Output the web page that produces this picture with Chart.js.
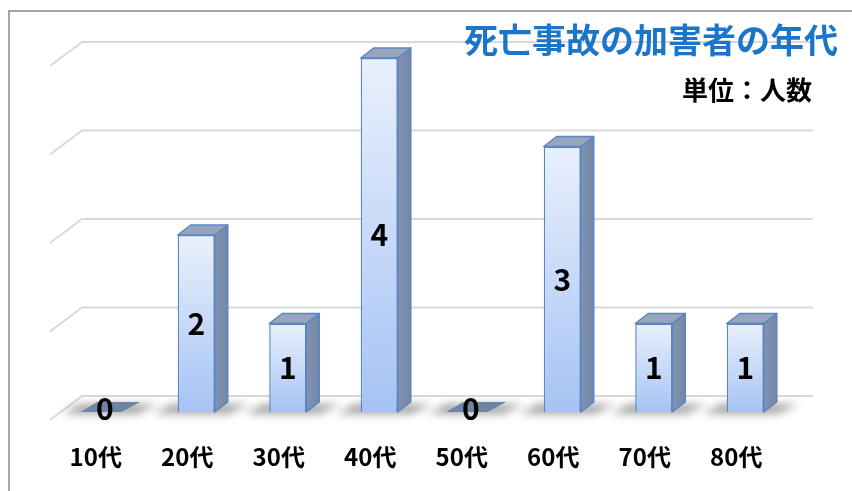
<!DOCTYPE html>
<html lang="ja">
  <head>
    <meta charset="utf-8">
    <title>死亡事故の加害者の年代</title>
    <script src="https://cdn.jsdelivr.net/npm/chart.js"></script>
    <style>
      html, body { margin: 0; padding: 0; background: #fff; }
      #wrap { width: 852px; height: 491px; }
    </style>
  </head>
  <body>
    <div id="wrap"><canvas id="barChart"></canvas></div>

    <script>
      // data
      var ages = ['10代', '20代', '30代', '40代', '50代', '60代', '70代', '80代'];
      var counts = [0, 2, 1, 4, 0, 3, 1, 1];
      var yTicks = [0, 1, 2, 3, 4];
      var titleText = '死亡事故の加害者の年代';
      var unitText = '単位：人数';

      var FONT = '"Noto Sans CJK JP", "Noto Sans", sans-serif';
      var DX = 13, DY = 10;   // depth of the bars

      // gradient for the front face of each bar
      function frontFill(c) {
        var chart = c.chart;
        var ys = chart.scales.y;
        if (!ys || c.raw === undefined) return '#c5d8f8';
        var top = ys.getPixelForValue(c.raw);
        var base = ys.getPixelForValue(0);
        if (!isFinite(top) || !isFinite(base) || base - top < 1) return '#c5d8f8';
        var g = chart.ctx.createLinearGradient(0, top, 0, base);
        g.addColorStop(0, '#e9f0fc');
        g.addColorStop(1, '#a6c3f4');
        return g;
      }

      // frame, back gridlines, shadows, 3d faces, labels
      var backdrop = {
        id: 'backdrop',
        beforeDraw: function(chart) {
          var ctx = chart.ctx;
          ctx.save();
          ctx.strokeStyle = '#a6a6a6';
          ctx.lineWidth = 2;
          ctx.strokeRect(9, 11, 900, 600);
          ctx.restore();
        },
        beforeDatasetsDraw: function(chart) {
          var ctx = chart.ctx;
          var ys = chart.scales.y;
          var area = chart.chartArea;
          ctx.save();
          ctx.strokeStyle = '#d9d9d9';
          ctx.lineWidth = 2;
          yTicks.forEach(function(v) {
            var py = ys.getPixelForValue(v) - 16;
            ctx.beginPath();
            ctx.moveTo(area.left - 9, py + 24);
            ctx.lineTo(area.left + 23, py);
            ctx.lineTo(area.right + 22, py);
            ctx.stroke();
          });
          // soft shadows under the bars
          var meta = chart.getDatasetMeta(0);
          ctx.filter = 'blur(4px)';
          meta.data.forEach(function(bar) {
            var w = bar.width;
            var l = bar.x - w / 2, r = bar.x + w / 2, b = bar.base;
            ctx.fillStyle = 'rgba(90,90,90,0.55)';
            ctx.beginPath();
            ctx.moveTo(l - 24, b + 2);
            ctx.lineTo(l - 6, b - 8);
            ctx.lineTo(r + 34, b - 8);
            ctx.lineTo(r + 14, b + 2);
            ctx.closePath();
            ctx.fill();
          });
          ctx.restore();
        },
        afterDatasetsDraw: function(chart) {
          var ctx = chart.ctx;
          var meta = chart.getDatasetMeta(0);
          ctx.save();
          meta.data.forEach(function(bar, i) {
            var w = bar.width;
            var l = bar.x - w / 2, r = bar.x + w / 2;
            var t = bar.y, b = bar.base;
            ctx.lineWidth = 1.5;
            ctx.strokeStyle = '#5b86c4';
            ctx.lineJoin = 'round';
            if (b - t > 1) {
              // side face
              var sg = ctx.createLinearGradient(r, 0, r + DX, 0);
              sg.addColorStop(0, '#8293b0');
              sg.addColorStop(1, '#7387a8');
              ctx.fillStyle = sg;
              ctx.beginPath();
              ctx.moveTo(r, t);
              ctx.lineTo(r + DX, t - DY);
              ctx.lineTo(r + DX, b - DY);
              ctx.lineTo(r, b);
              ctx.closePath();
              ctx.fill();
              ctx.stroke();
              // top face
              ctx.fillStyle = '#97a5bd';
              ctx.beginPath();
              ctx.moveTo(l, t);
              ctx.lineTo(l + DX, t - DY);
              ctx.lineTo(r + DX, t - DY);
              ctx.lineTo(r, t);
              ctx.closePath();
              ctx.fill();
              ctx.stroke();
            } else {
              // flat bar for zero
              ctx.fillStyle = '#6e84a6';
              ctx.beginPath();
              ctx.moveTo(l - 6, b);
              ctx.lineTo(l + DX - 2, b - DY);
              ctx.lineTo(r + DX + 4, b - DY);
              ctx.lineTo(r - 2, b);
              ctx.closePath();
              ctx.fill();
            }
            // value label
            ctx.fillStyle = '#000';
            ctx.font = 'bold 30px ' + FONT;
            ctx.textAlign = 'center';
            ctx.textBaseline = 'middle';
            var cy = (b - t > 1) ? (t + b) / 2 : b - 3;
            ctx.fillText(String(counts[i]), bar.x, cy);
          });
          ctx.restore();
        },
        afterDraw: function(chart) {
          var ctx = chart.ctx;
          ctx.save();
          ctx.textAlign = 'right';
          ctx.textBaseline = 'middle';
          ctx.fillStyle = '#1b75c9';
          ctx.font = 'bold 34px ' + FONT;
          ctx.fillText(titleText, 838, 40);
          ctx.fillStyle = '#000';
          ctx.font = 'bold 26px ' + FONT;
          ctx.fillText(unitText, 812, 90);
          ctx.restore();
        }
      };

      var barChart = new Chart(document.getElementById('barChart'), {
        type: 'bar',
        data: {
          labels: ages,
          datasets: [{
            data: counts,
            backgroundColor: frontFill,
            borderColor: '#5b86c4',
            borderWidth: 1.5,
            barPercentage: 0.5,
            categoryPercentage: 0.81
          }]
        },
        options: {
          responsive: true,
          maintainAspectRatio: false,
          animation: false,
          devicePixelRatio: 1,
          layout: { padding: { left: 59, right: 61, top: 58, bottom: 0 } },
          plugins: {
            legend: { display: false },
            title: { display: false },
            tooltip: { enabled: false }
          },
          scales: {
            x: {
              grid: { display: false, drawTicks: false, tickLength: 0 },
              border: { display: false },
              afterFit: function(scale) { scale.height = 79; },
              ticks: {
                color: '#000',
                font: { family: FONT, size: 24, weight: 'bold' },
                padding: 30,
                labelOffset: -9,
                maxRotation: 0
              }
            },
            y: {
              display: false,
              min: 0,
              max: 4
            }
          }
        },
        plugins: [backdrop]
      });
    </script>
  </body>
</html>
